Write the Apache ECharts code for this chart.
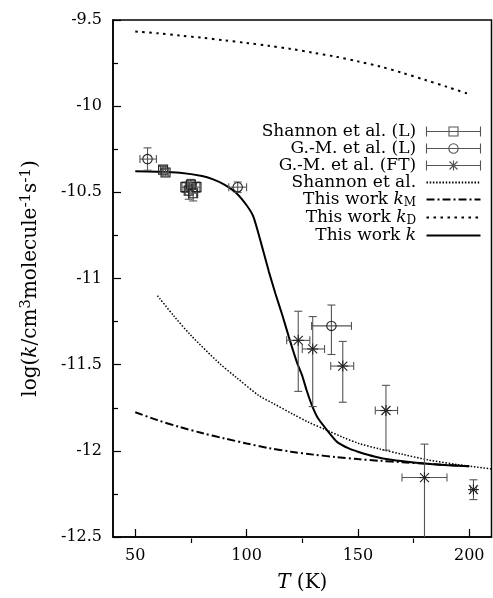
<!DOCTYPE html>
<html>
<head>
<meta charset="utf-8">
<script src="https://cdn.jsdelivr.net/npm/echarts@6/dist/echarts.min.js"></script>
<style>
  html, body { margin: 0; padding: 0; background: #fff; }
  #chart { width: 493px; height: 598px; }
</style>
</head>
<body>
<div id="chart"></div>
<script>
// model curves, log10 k vs T (K)
const kDT = [50, 60, 70, 80, 90, 100, 110, 120, 130, 140, 150, 160, 170, 180, 190, 200];
const kDLog = [-9.567, -9.577, -9.59, -9.603, -9.618, -9.633, -9.65, -9.668, -9.69, -9.713, -9.74, -9.77, -9.807, -9.847, -9.888, -9.93];
const kMT = [50, 60, 70, 80, 90, 100, 110, 120, 130, 140, 150, 160, 170, 180, 190, 200];
const kMLog = [-11.776, -11.822, -11.862, -11.897, -11.928, -11.957, -11.984, -12.005, -12.022, -12.036, -12.048, -12.058, -12.066, -12.074, -12.082, -12.09];
const kT = [50, 60, 70, 80, 85, 90, 95, 100, 103, 106, 110, 113, 116, 119, 122.7, 125, 127, 129.4, 132, 136.2, 140.6, 145.9, 150, 157.8, 165, 175, 185, 200];
const kLog = [-10.378, -10.38, -10.386, -10.405, -10.425, -10.455, -10.5, -10.575, -10.64, -10.77, -10.96, -11.09, -11.21, -11.34, -11.49, -11.565, -11.65, -11.738, -11.81, -11.881, -11.948, -11.986, -12.005, -12.034, -12.052, -12.068, -12.079, -12.09];
const shT = [60, 67.5, 75, 87.6, 95, 105.6, 112, 120.5, 128, 136.2, 143, 150.4, 160, 170, 181.7, 195, 210];
const shLog = [-11.1, -11.22, -11.33, -11.49, -11.57, -11.68, -11.725, -11.785, -11.835, -11.881, -11.92, -11.957, -11.99, -12.02, -12.053, -12.08, -12.105];

// measurements: [T, log k, T low, T high, log k low, log k high]
const shannonL = [
  [62.5, -10.368, 61.3, 63.7, -10.385, -10.35],
  [63.6, -10.385, 62.4, 64.8, -10.405, -10.365],
  [72.5, -10.47, 71, 74, -10.5, -10.44],
  [74, -10.49, 72.5, 75.5, -10.54, -10.44],
  [75, -10.455, 73.5, 76.5, -10.485, -10.425],
  [76, -10.505, 74.5, 77.5, -10.55, -10.465],
  [77.5, -10.47, 76, 79, -10.5, -10.44]
];
const gmL = [
  [55.5, -10.307, 52.1, 59.5, -10.372, -10.242],
  [96, -10.47, 92, 100, -10.5, -10.44],
  [138.1, -11.275, 129.2, 147.1, -11.441, -11.154]
];
const gmFT = [
  [123.2, -11.359, 118, 128.4, -11.655, -11.19],
  [129.7, -11.409, 125, 135, -11.743, -11.221],
  [143.2, -11.508, 137.8, 148.1, -11.718, -11.365],
  [162.6, -11.766, 157.8, 167.8, -11.996, -11.62],
  [179.9, -12.155, 169.8, 190, -12.7, -11.961],
  [201.9, -12.225, 200.6, 203.2, -12.283, -12.168]
];

const xMajor = [50, 100, 150, 200];
const xMinor = [75, 125, 175];

const FONT = 'DejaVu Serif';
const chart = echarts.init(document.getElementById('chart'));

function pairs(xs, ys) {
  return xs.map((x, i) => [x, ys[i]]);
}

// error bars + marker drawn from data through api.coord
function errorBars(marker) {
  return function (params, api) {
    const x = api.value(0), y = api.value(1);
    const c = api.coord([x, y]);
    const l = api.coord([api.value(2), y]);
    const r = api.coord([api.value(3), y]);
    const lo = api.coord([x, api.value(4)]);
    const hi = api.coord([x, api.value(5)]);
    const cap = 4;
    const bar = { stroke: '#555', lineWidth: 1.1, fill: 'none' };
    const mk = { stroke: '#222', lineWidth: 1.1, fill: 'none' };
    const seg = (x1, y1, x2, y2, st) => ({ type: 'line', shape: { x1, y1, x2, y2 }, style: st || bar });
    const kids = [
      seg(l[0], c[1], r[0], c[1]),
      seg(l[0], c[1] - cap, l[0], c[1] + cap),
      seg(r[0], c[1] - cap, r[0], c[1] + cap),
      seg(c[0], lo[1], c[0], hi[1]),
      seg(c[0] - cap, lo[1], c[0] + cap, lo[1]),
      seg(c[0] - cap, hi[1], c[0] + cap, hi[1])
    ];
    if (marker === 'square') {
      kids.push({ type: 'rect', shape: { x: c[0] - 4.5, y: c[1] - 4.5, width: 9, height: 9 }, style: mk });
    } else if (marker === 'circle') {
      kids.push({ type: 'circle', shape: { cx: c[0], cy: c[1], r: 4.7 }, style: mk });
    } else {
      const s = 4.5;
      kids.push(seg(c[0] - s, c[1] - s, c[0] + s, c[1] + s, mk));
      kids.push(seg(c[0] - s, c[1] + s, c[0] + s, c[1] - s, mk));
      kids.push(seg(c[0], c[1] - s - 1, c[0], c[1] + s + 1, mk));
      kids.push(seg(c[0] - s - 1, c[1], c[0] + s + 1, c[1], mk));
    }
    return { type: 'group', children: kids };
  };
}

const legendText = {
  'Shannon et al. (L)': '{t|Shannon et al. (L) }',
  'G.-M. et al. (L)': '{t|G.-M. et al. (L) }',
  'G.-M. et al. (FT)': '{t|G.-M. et al. (FT) }',
  'Shannon et al.': '{t|Shannon et al. }',
  'This work kM': '{t|This work }{i|k}{s|M}{t| }',
  'This work kD': '{t|This work }{i|k}{s|D}{t| }',
  'This work k': '{t|This work }{i|k}{t| }'
};

const barIcon = 'M0,0V10M0,5H54M54,0V10';
const iconStyle = { color: 'none', borderColor: '#555', borderWidth: 1.1 };
// line entries: keep only the line in the legend key, no symbol dot
const noDot = { color: 'rgba(0,0,0,0)', borderColor: 'rgba(0,0,0,0)', borderWidth: 0 };

const gridRect = { left: 113, top: 20, right: 1.5, bottom: 55 };

const option = {
  animation: false,
  backgroundColor: '#fff',
  grid: [
    Object.assign({ show: true, borderColor: '#000', borderWidth: 1.5 }, gridRect),
    Object.assign({ show: false }, gridRect)
  ],
  legend: {
    orient: 'vertical',
    right: 10,
    top: 123,
    align: 'right',
    itemWidth: 54,
    itemHeight: 10,
    itemGap: 0,
    padding: 0,
    selectedMode: false,
    formatter: (name) => legendText[name],
    textStyle: {
      fontFamily: FONT, fontSize: 17, color: '#000',
      rich: {
        t: { fontFamily: FONT, fontSize: 17, lineHeight: 19, color: '#000' },
        i: { fontFamily: FONT, fontSize: 17, lineHeight: 19, color: '#000', fontStyle: 'italic' },
        s: { fontFamily: FONT, fontSize: 12, lineHeight: 12, color: '#000', verticalAlign: 'bottom' }
      }
    },
    data: [
      { name: 'Shannon et al. (L)', icon: 'path://' + barIcon + 'M22.5,0.5H31.5V9.5H22.5Z', itemStyle: iconStyle },
      { name: 'G.-M. et al. (L)', icon: 'path://' + barIcon + 'M31.7,5A4.7,4.7,0,1,1,22.3,5A4.7,4.7,0,1,1,31.7,5', itemStyle: iconStyle },
      { name: 'G.-M. et al. (FT)', icon: 'path://' + barIcon + 'M23,1L31,9M23,9L31,1M27,0V10', itemStyle: iconStyle },
      { name: 'Shannon et al.', itemStyle: noDot },
      { name: 'This work kM', itemStyle: noDot },
      { name: 'This work kD', itemStyle: noDot },
      { name: 'This work k', itemStyle: noDot }
    ]
  },
  xAxis: [
    {
      type: 'value', gridIndex: 0, min: 40, max: 210,
      name: '{i|T}{t| (K)}', nameLocation: 'middle', nameGap: 36,
      nameTextStyle: {
        rich: {
          i: { fontFamily: FONT, fontSize: 20, fontStyle: 'italic', color: '#000' },
          t: { fontFamily: FONT, fontSize: 20, color: '#000' }
        }
      },
      axisLine: { show: true, lineStyle: { color: '#000', width: 1.5 } },
      axisTick: { show: true, inside: true, length: 8, customValues: xMajor, lineStyle: { color: '#000', width: 1.2 } },
      axisLabel: { customValues: xMajor, margin: 11, fontFamily: FONT, fontSize: 16, color: '#000' },
      splitLine: { show: false }
    },
    {
      type: 'value', gridIndex: 1, min: 40, max: 210,
      axisLine: { show: false },
      axisTick: { show: true, inside: true, length: 4.5, customValues: xMinor, lineStyle: { color: '#000', width: 1.2 } },
      axisLabel: { show: false },
      splitLine: { show: false }
    }
  ],
  yAxis: [
    {
      type: 'value', gridIndex: 0, min: -12.5, max: -9.5, interval: 0.5,
      name: '{t|log(}{i|k}{t|/cm}{p|3}{t|molecule}{p|-1}{t|s}{p|-1}{t|)}',
      nameLocation: 'middle', nameRotate: 90, nameGap: 70,
      nameTextStyle: {
        rich: {
          t: { fontFamily: FONT, fontSize: 20, lineHeight: 24, color: '#000' },
          i: { fontFamily: FONT, fontSize: 20, lineHeight: 24, color: '#000', fontStyle: 'italic' },
          p: { fontFamily: FONT, fontSize: 15, lineHeight: 15, color: '#000', verticalAlign: 'top' }
        }
      },
      axisLine: { show: true, lineStyle: { color: '#000', width: 1.5 } },
      axisTick: { show: true, inside: true, length: 8, lineStyle: { color: '#000', width: 1.2 } },
      minorTick: { show: true, splitNumber: 2, length: 5, lineStyle: { color: '#000', width: 1.2 } },
      axisLabel: { margin: 11, fontFamily: FONT, fontSize: 16, color: '#000' },
      splitLine: { show: false }
    },
    {
      type: 'value', gridIndex: 1, min: -12.5, max: -9.5, show: false
    }
  ],
  series: [
    {
      name: 'Shannon et al.', type: 'line', data: pairs(shT, shLog), smooth: 0.3,
      symbol: 'none', clip: true,
      lineStyle: { color: '#000', width: 1.5, type: [1.5, 1.7] }
    },
    {
      name: 'This work kD', type: 'line', data: pairs(kDT, kDLog), smooth: 0.3,
      symbol: 'none', clip: true,
      lineStyle: { color: '#000', width: 2, type: [2.5, 4.5] }
    },
    {
      name: 'This work kM', type: 'line', data: pairs(kMT, kMLog), smooth: 0.3,
      symbol: 'none', clip: true,
      lineStyle: { color: '#000', width: 2, type: [8, 3, 2, 3] }
    },
    {
      name: 'This work k', type: 'line', data: pairs(kT, kLog), smooth: 0.2,
      symbol: 'none', clip: true,
      lineStyle: { color: '#000', width: 2 }
    },
    {
      name: 'Shannon et al. (L)', type: 'custom', data: shannonL, clip: true,
      encode: { x: 0, y: 1 }, renderItem: errorBars('square'), z: 5
    },
    {
      name: 'G.-M. et al. (L)', type: 'custom', data: gmL, clip: true,
      encode: { x: 0, y: 1 }, renderItem: errorBars('circle'), z: 5
    },
    {
      name: 'G.-M. et al. (FT)', type: 'custom', data: gmFT, clip: true,
      encode: { x: 0, y: 1 }, renderItem: errorBars('star'), z: 5
    }
  ]
};

chart.setOption(option);
</script>
</body>
</html>
